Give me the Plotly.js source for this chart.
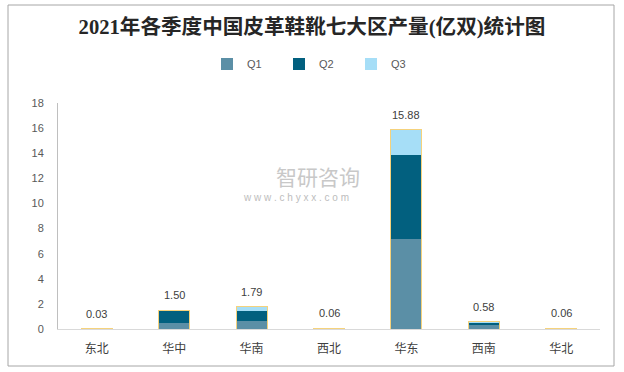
<!DOCTYPE html>
<html>
<head>
<meta charset="utf-8">
<script src="https://cdn.plot.ly/plotly-3.0.1.min.js"></script>
<style>
html,body{margin:0;padding:0;background:#fff;}
#chart{width:624px;height:372px;}
</style>
</head>
<body>
<div id="chart"></div>
<script>
const regions = ["东北","华中","华南","西北","华东","西南","华北"];
const q1 = [0.01, 0.50, 0.65, 0.02, 7.19, 0.30, 0.02];
const q2 = [0.01, 0.95, 0.80, 0.02, 6.66, 0.20, 0.02];
const q3 = [0.01, 0.05, 0.34, 0.02, 2.03, 0.08, 0.02];
const totals = [0.03, 1.50, 1.79, 0.06, 15.88, 0.58, 0.06];
const seriesNames = ["Q1","Q2","Q3"];
const seriesColors = ["#5B8FA6","#02607F","#A6DEF7"];
const yTicks = [0,2,4,6,8,10,12,14,16,18];

const series = [q1,q2,q3];
const traces = series.map((vals,i)=>({
  type:'bar', x:regions, y:vals, name:seriesNames[i],
  marker:{color:seriesColors[i], line:{width:0}},
  hoverinfo:'x+y'
}));
// outline of each stacked bar (total), on an overlaying axis
traces.push({
  type:'bar', x:regions, y:totals, xaxis:'x2', showlegend:false,
  marker:{color:'rgba(0,0,0,0)', line:{color:'#F5D27C', width:1}},
  hoverinfo:'skip'
});

const annotations = regions.map((r,i)=>({
  x:r, y:totals[i], xref:'x', yref:'y', text:totals[i].toFixed(2),
  showarrow:false, yanchor:'bottom', yshift:7,
  font:{family:'Liberation Sans, Arial, sans-serif', size:11, color:'#404040'}
}));
// watermark
annotations.push({
  xref:'paper', yref:'paper', x:(318-58)/542, y:(329-176)/226, text:'智研咨询',
  showarrow:false, xanchor:'center', yanchor:'middle',
  font:{family:'Noto Sans CJK SC', size:21, color:'#C8C8C8'}
});
annotations.push({
  xref:'paper', yref:'paper', x:(296-58)/542, y:(329-197)/226, text:'w w w . c h y x x . c o m',
  showarrow:false, xanchor:'center', yanchor:'middle',
  font:{family:'Liberation Sans, Arial, sans-serif', size:10, color:'#BDBDBD'}
});

const layout = {
  width:624, height:372,
  margin:{l:58, r:24, t:103, b:43},
  paper_bgcolor:'#fff', plot_bgcolor:'#fff',
  barmode:'stack', bargap:0.6,
  title:{text:'<b>2021年各季度中国皮革鞋靴七大区产量(亿双)统计图</b>',
    x:0.5, xanchor:'center', y:1-27/372, yanchor:'middle', yref:'container',
    font:{family:'Liberation Serif, Noto Sans CJK SC', size:20.6, color:'#262626'}},
  showlegend:true,
  legend:{orientation:'h', x:(207-58)/542, xanchor:'left', y:(329-64)/226, yanchor:'middle',
    font:{family:'Liberation Sans, Arial, sans-serif', size:11, color:'#595959'},
    entrywidth:27, entrywidthmode:'pixels', itemwidth:30, traceorder:'normal'},
  xaxis:{type:'category', range:[-0.5,6.5], showgrid:false, zeroline:false,
    showline:true, linecolor:'#D9D9D9', linewidth:1, ticks:'outside', ticklen:9,
    tickcolor:'rgba(0,0,0,0)',
    tickfont:{family:'Noto Sans CJK SC', size:12, color:'#404040'}, fixedrange:true},
  xaxis2:{type:'category', range:[-0.5,6.5], overlaying:'x', visible:false, fixedrange:true},
  yaxis:{range:[0,18], tickvals:yTicks, showgrid:false, zeroline:false,
    showline:true, linecolor:'#BFBFBF', linewidth:1, ticks:'outside', ticklen:11,
    tickcolor:'rgba(0,0,0,0)',
    tickfont:{family:'Liberation Sans, Arial, sans-serif', size:11, color:'#595959'}, fixedrange:true},
  annotations:annotations,
  shapes:[{type:'rect', xref:'paper', yref:'paper',
    x0:(8-58)/542, x1:(614-58)/542, y0:(329-366)/226, y1:(329-5)/226,
    line:{color:'#A6A6A6', width:1}, fillcolor:'rgba(0,0,0,0)', layer:'below'}]
};

Plotly.newPlot('chart', traces, layout, {displayModeBar:false, staticPlot:true});
</script>
</body>
</html>
